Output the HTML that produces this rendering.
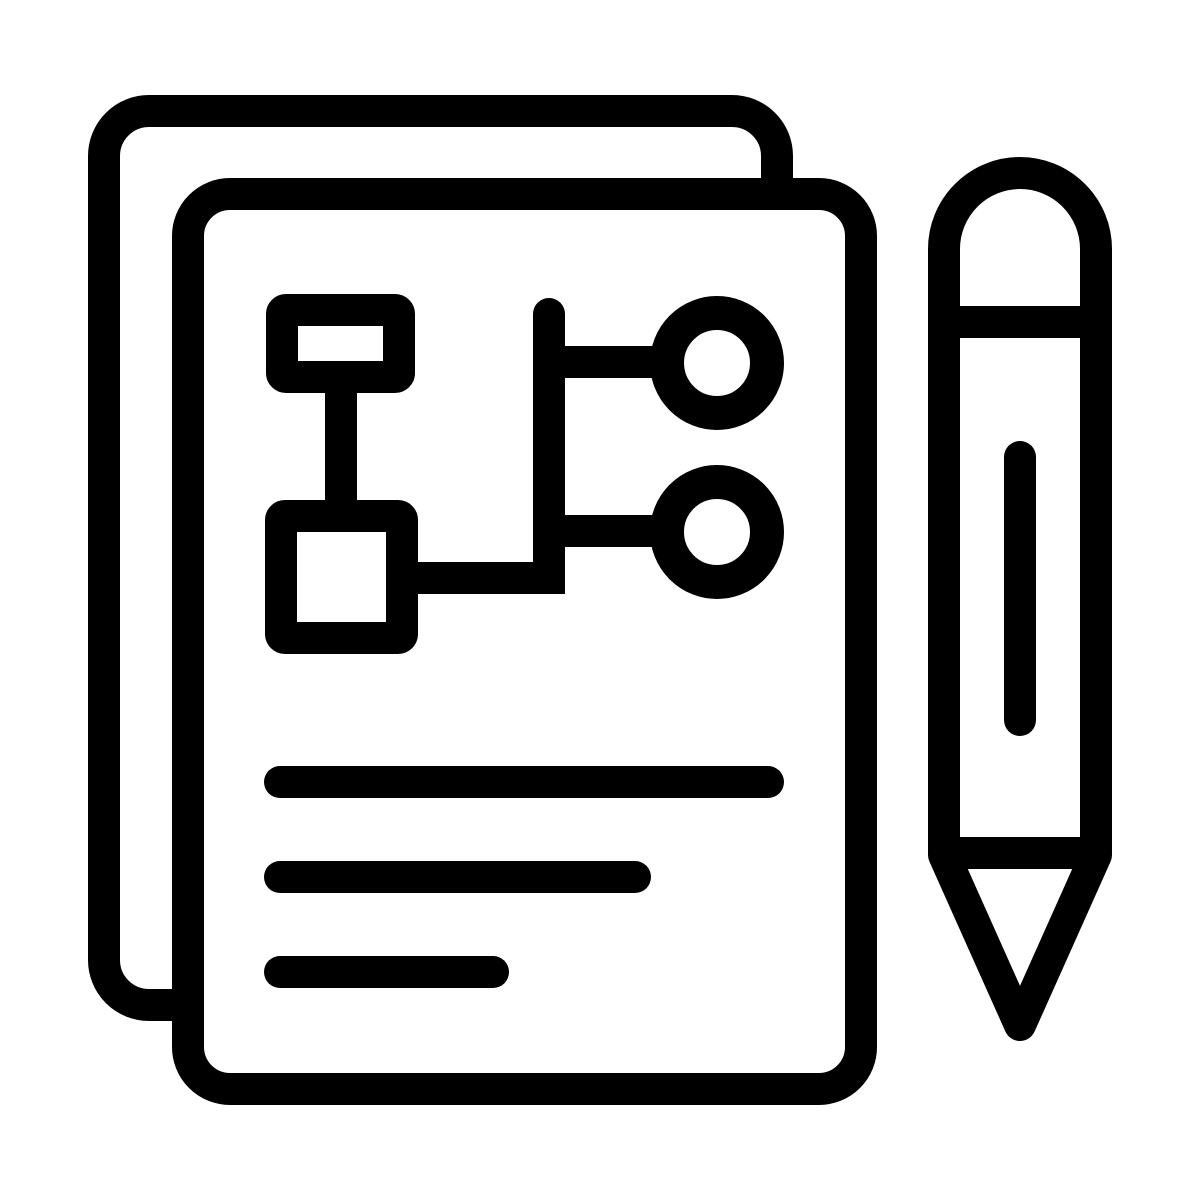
<!DOCTYPE html>
<html><head><style>html,body{margin:0;padding:0;background:#fff}svg{display:block}</style></head>
<body>
<svg width="1200" height="1200" viewBox="0 0 1200 1200" xmlns="http://www.w3.org/2000/svg">
<g fill="none" stroke="#000" stroke-width="32" stroke-linecap="round" stroke-linejoin="round">
<path d="M777 180 V156 A45 45 0 0 0 732 111 H149 A45 45 0 0 0 104 156 V960 A45 45 0 0 0 149 1005 H172"/>
<rect x="188" y="194" width="673" height="895" rx="42"/>
<rect x="282" y="310" width="117" height="67" rx="4" stroke-linejoin="miter"/>
<line x1="341" y1="377" x2="341" y2="502"/>
<rect x="281" y="516" width="121" height="122" rx="4" stroke-linejoin="miter"/>
<path d="M402 578 H549 V314" stroke-linecap="butt" stroke-linejoin="miter"/>
<line x1="549" y1="314" x2="549" y2="320"/>
<line x1="549" y1="362" x2="667" y2="362" stroke-linecap="butt"/>
<line x1="549" y1="531" x2="667" y2="531" stroke-linecap="butt"/>
<circle cx="717" cy="363" r="50" stroke-width="34"/>
<circle cx="717" cy="532" r="50" stroke-width="34"/>
<line x1="280" y1="782" x2="768" y2="782"/>
<line x1="280" y1="877" x2="635" y2="877"/>
<line x1="280" y1="972" x2="493" y2="972"/>
<path d="M944 855 V249 A76 76 0 0 1 1096 249 V855 L1020 1025 Z"/>
<line x1="944" y1="322" x2="1096" y2="322" stroke-linecap="butt"/>
<line x1="944" y1="853" x2="1096" y2="853" stroke-linecap="butt"/>
<line x1="1020" y1="457" x2="1020" y2="720"/>
</g>
</svg>
</body></html>
